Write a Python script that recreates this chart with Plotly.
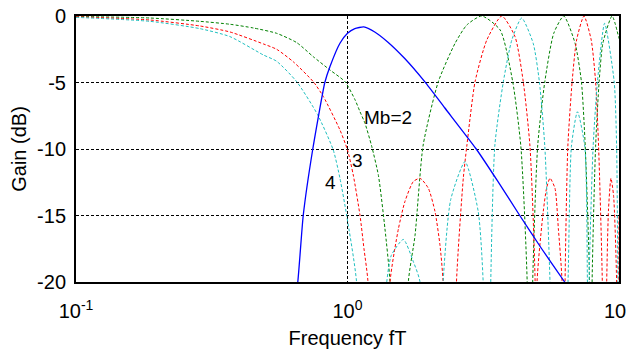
import math
import plotly.graph_objects as go

# ---------------- data ----------------
blue_f = [0.60, 0.656, 0.687, 0.745, 0.825, 0.862, 0.938, 1.0, 1.064, 1.148, 1.26, 1.406, 1.625,
          1.925, 2.28, 2.98, 3.57, 4.31, 5.19, 6.31, 6.6]
blue_db = [-26, -20, -15, -10, -5, -3.8, -2.05, -1.3, -0.95, -0.82, -1.2, -1.95, -3.2,
           -4.94, -6.9, -10.0, -12.4, -15.0, -17.5, -20, -20.6]

green_f = [0.1, 0.187, 0.286, 0.369, 0.45, 0.548, 0.65, 0.748, 0.862, 0.979, 1.066, 1.112, 1.16,
           1.228, 1.30, 1.374, 1.434, 1.55, 1.675, 1.773, 1.90, 2.16, 2.49, 2.75, 3.12, 3.65, 4.06,
           4.35, 4.59, 4.71, 4.81, 5.02, 5.33, 5.75, 6.26, 6.89, 7.27, 7.51, 7.79, 7.87, 7.96, 8.2,
           8.45, 8.72, 9.43, 10.0]
green_db = [-0.03, -0.15, -0.4, -0.62, -0.9, -1.3, -2.0, -3.06, -4.06, -4.94, -6.3, -7.2, -8.07,
            -9.8, -12.0, -16.0, -20, -45, -20, -16.5, -9.7, -4.94, -2.05, -0.68, 0.0, -1.05, -4.94,
            -9.8, -20, -45, -20, -9.7, -4.94, -1.3, 0.0, -2.05, -4.94, -9.8, -20, -45, -20, -9.8,
            -4.94, -2.05, 0.0, -1.7]

red_f = [0.1, 0.187, 0.286, 0.369, 0.49, 0.548, 0.632, 0.748, 0.815, 0.938, 1.0, 1.05, 1.112, 1.15,
         1.19, 1.30, 1.434, 1.54, 1.627, 1.747, 1.85, 1.985, 2.10, 2.19, 2.25, 2.40, 2.52, 2.67,
         2.75, 2.95, 3.26, 3.70, 4.14, 4.44, 4.70, 4.91, 4.95, 4.99, 5.26, 5.41, 5.57, 5.81, 5.98,
         6.17, 6.25, 6.33, 6.48, 6.72, 6.98, 7.43, 7.9, 8.2, 8.41, 8.68, 8.85, 9.01, 9.15, 9.34,
         9.55, 9.80, 9.88, 10.0]
red_db = [-0.05, -0.3, -0.75, -1.2, -2.1, -2.5, -3.45, -4.94, -6.06, -8.57, -10.07, -11.95, -15.0,
          -17.5, -20, -45, -20, -16.0, -13.96, -12.45, -12.2, -12.95, -14.7, -17.2, -20, -45, -20,
          -12.2, -9.8, -4.94, -1.8, 0.0, -1.55, -4.94, -9.8, -20, -45, -20, -14.7, -12.95, -12.2,
          -12.95, -16.0, -20, -45, -20, -9.8, -4.94, -1.8, 0.0, -1.8, -4.94, -9.8, -20, -45, -20,
          -14.5, -12.2, -13.5, -20, -45, -15]

cyan_f = [0.1, 0.187, 0.286, 0.369, 0.49, 0.548, 0.65, 0.775, 0.886, 0.938, 0.993, 1.08, 1.18,
          1.395, 1.45, 1.606, 1.75, 1.85, 2.05, 2.25, 2.40, 2.71, 3.03, 3.16, 3.28, 3.37, 3.49,
          3.75, 4.03, 4.38, 4.83, 5.09, 5.33, 5.57, 5.9, 6.49, 6.68, 7.03, 7.48, 7.65, 7.70, 7.76,
          8.03, 8.33, 8.85, 9.6, 9.8, 9.9, 10.0]
cyan_db = [-0.1, -0.4, -0.95, -1.55, -2.93, -3.4, -4.94, -7.4, -10.07, -12.2, -15.0, -20, -45,
           -20, -18.0, -16.8, -18.5, -20, -45, -20, -13.8, -10.95, -14.7, -20, -45, -20, -9.7,
           -4.94, -1.8, -0.15, -2.05, -4.94, -9.8, -20, -45, -20, -9.8, -7.2, -9.8, -20, -45, -20,
           -9.8, -4.94, -0.55, -4.94, -9.8, -20, -45]

label_text = ["Mb=2", "3", "4"]
label_f = [1.41, 1.084, 0.869]
label_db = [-7.6, -10.9, -12.5]

x_tickvals = [0.1, 1, 10]
x_ticktext = ["10<sup>-1</sup>", "10<sup>0</sup>", "10<sup>1</sup>"]
y_tickvals = [-20, -15, -10, -5, 0]
y_ticktext = ["-20", "-15", "-10", "-5", "0"]

FONT = "Liberation Sans, Arial, sans-serif"

fig = go.Figure()
dash = "3px,2px"
fig.add_trace(go.Scatter(x=green_f, y=green_db, mode="lines", line=dict(color="#008000", width=1, dash=dash, shape="spline", smoothing=0.6)))
fig.add_trace(go.Scatter(x=red_f, y=red_db, mode="lines", line=dict(color="#ff0000", width=1, dash=dash, shape="spline", smoothing=0.6)))
fig.add_trace(go.Scatter(x=cyan_f, y=cyan_db, mode="lines", line=dict(color="#1fbfbf", width=1, dash=dash, shape="spline", smoothing=0.6)))
fig.add_trace(go.Scatter(x=blue_f, y=blue_db, mode="lines", line=dict(color="#0000ff", width=1.3, shape="spline", smoothing=0.5)))

for t, f, d in zip(label_text, label_f, label_db):
    fig.add_annotation(x=math.log10(f), y=d, text=t, showarrow=False,
                       font=dict(family=FONT, size=19, color="black"))

# page body adds an 8px offset; margins compensate so the plot box sits at 76..619 x 16..282
fig.update_layout(
    width=634, height=350,
    margin=dict(l=68, r=23, t=8, b=76),
    paper_bgcolor="white", plot_bgcolor="white",
    showlegend=False,
    font=dict(family=FONT, size=18, color="black"),
)
fig.update_xaxes(
    type="log", range=[-1, 1], automargin=False,
    tickvals=x_tickvals, ticktext=x_ticktext, ticklabeloverflow="allow",
    showgrid=True, gridcolor="black", gridwidth=1, griddash="3px,2px",
    showline=True, linecolor="black", linewidth=2, mirror=True,
    ticks="", zeroline=False, ticklabelstandoff=10,
    tickfont=dict(family=FONT, size=20),
    title=dict(text="Frequency fT", font=dict(family=FONT, size=20), standoff=10),
)
fig.update_yaxes(
    range=[-20, 0], automargin=False,
    tickvals=y_tickvals, ticktext=y_ticktext, ticklabeloverflow="allow",
    showgrid=True, gridcolor="black", gridwidth=1, griddash="3px,2px",
    showline=True, linecolor="black", linewidth=2, mirror=True,
    ticks="", zeroline=False, ticklabelstandoff=4,
    tickfont=dict(family=FONT, size=20),
    title=dict(text="Gain (dB)", font=dict(family=FONT, size=20), standoff=10),
)

fig.write_html("out.html")
